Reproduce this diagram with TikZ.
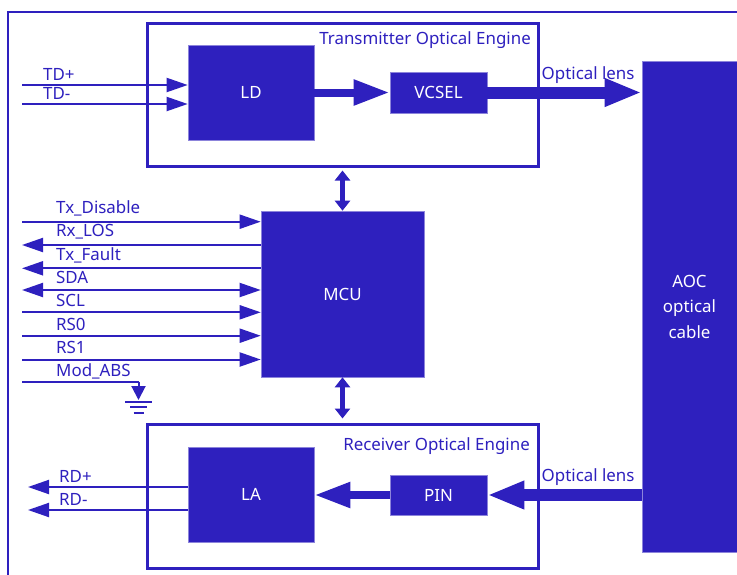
\documentclass[tikz,border=0pt]{standalone}
\usepackage{fontspec}
\setmainfont{Noto Sans}
\usetikzlibrary{arrows.meta, positioning}
\definecolor{aocblue}{RGB}{46,32,190}

\begin{document}
\begin{tikzpicture}[x=1pt, y=-1pt, >={Triangle[length=21pt,width=14pt]},
  block/.style={draw=aocblue!55!white, line width=0.6pt, fill=aocblue, text=white,
    inner sep=0pt, font=\fontsize{16.9}{25.5}\selectfont},
  engine/.style={draw=aocblue, line width=3pt, inner sep=0pt},
  sig/.style={draw=aocblue, line width=2pt},
  lbl/.style={text=aocblue, inner sep=0pt, anchor=base west, font=\fontsize{16.9}{19}\selectfont},
  beam/.style={draw=aocblue, line width=8pt, -{Triangle[length=36pt,width=24pt]}},
  lensbeam/.style={draw=aocblue, line width=12pt, -{Triangle[length=37pt,width=26pt]}},
  bus/.style={draw=aocblue, line width=5pt, {Triangle[length=10pt,width=15pt]}-{Triangle[length=10pt,width=15pt]}}]
  \useasboundingbox (0,0) rectangle (737,574);

  % outer frame
  \draw[aocblue, line width=2pt] (8,580) -- (8,12) -- (740,12);

  % engines
  \node[engine, minimum width=391pt, minimum height=143pt] (tx) at (342.5,94.5) {};
  \node[engine, minimum width=391pt, minimum height=144pt] (rx) at (342.5,496) {};
  \node[lbl, anchor=base east] at (531,44.5) {Transmitter Optical Engine};
  \node[lbl, anchor=base east] at (530,450) {Receiver Optical Engine};

  % blocks
  \node[block, minimum width=126pt, minimum height=95pt] (ld) at (251,92.5) {LD};
  \node[block, minimum width=97pt, minimum height=41pt] (vcsel) at (438.5,92.5) {VCSEL};
  \node[block, minimum width=163pt, minimum height=166pt] (mcu) at (342.5,294) {MCU};
  \node[block, minimum width=126pt, minimum height=95pt] (la) at (251,494.5) {LA};
  \node[block, minimum width=97pt, minimum height=40pt] (pin) at (438.5,495) {PIN};
  \node[block, minimum width=95pt, minimum height=491pt, align=center] (aoc) at (689.5,306.5) {AOC\\optical\\cable};

  % optical path
  \draw[beam] (ld.east |- vcsel) -- (vcsel.west);
  \draw[lensbeam] (vcsel.east) -- (vcsel.east -| aoc.west);
  \node[lbl] at (541.5,79) {Optical lens};
  \draw[lensbeam] (pin.east -| aoc.west) -- (pin.east);
  \draw[beam] (pin.west) -- (pin.west -| la.east);
  \node[lbl] at (541.5,481) {Optical lens};

  % tx / rx data
  \coordinate (tdp) at (22,85);
  \coordinate (tdm) at (22,104);
  \draw[sig,->] (tdp) -- (tdp -| ld.west);
  \draw[sig,->] (tdm) -- (tdm -| ld.west);
  \node[lbl] at (43,80) {TD+};
  \node[lbl] at (43,99) {TD-};
  \coordinate (rdp) at (28,487);
  \coordinate (rdm) at (28,510);
  \draw[sig,->] (rdp -| la.west) -- (rdp);
  \draw[sig,->] (rdm -| la.west) -- (rdm);
  \node[lbl] at (59,482) {RD+};
  \node[lbl] at (59,505) {RD-};

  % mcu links
  \draw[bus, shorten <=3pt] (tx.south) -- (mcu.north);
  \draw[bus, shorten >=4pt] (mcu.south) -- (rx.north);

  % control pins
  \foreach \y/\ty/\name/\tip [count=\i] in {221.7/213.3/Tx\_Disable/->, 245/236.7/Rx\_LOS/<-,
      268.3/260/Tx\_Fault/<-, 290/283.3/SDA/<->, 312.3/306.7/SCL/->, 335.7/330/RS0/->,
      359.5/353.3/RS1/->} {
    \coordinate (s\i) at (22,\y);
    \draw[sig,\tip] (s\i) -- (s\i -| mcu.west);
    \node[lbl] at (56,\ty) {\name};
  }

  % mod_abs to ground
  \coordinate (mod) at (22,381.7);
  \coordinate (gnd) at (138.5,400);
  \node[lbl] at (56,376) {Mod\_ABS};
  \draw[sig] (mod) -- (mod -| gnd);
  \draw[sig, -{Triangle[length=14pt,width=14pt]}] (mod -| gnd) -- (gnd);
  \draw[sig] ([shift={(-13.5,1.5)}]gnd) -- ([shift={(13.5,1.5)}]gnd);
  \draw[sig] ([shift={(-8.5,7)}]gnd) -- ([shift={(8.5,7)}]gnd);
  \draw[sig] ([shift={(-5,12.5)}]gnd) -- ([shift={(5,12.5)}]gnd);
\end{tikzpicture}
\end{document}
